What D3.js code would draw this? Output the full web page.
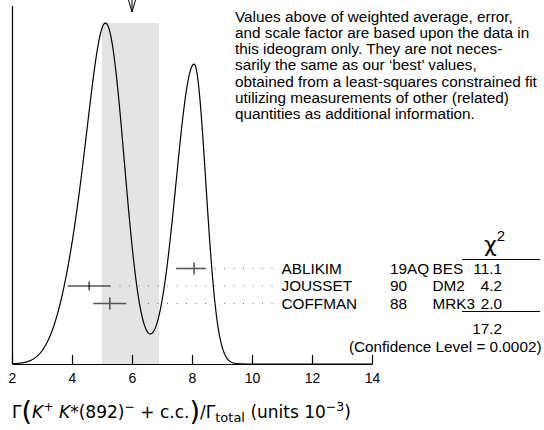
<!DOCTYPE html>
<html>
<head>
<meta charset="utf-8">
<script src="https://cdn.jsdelivr.net/npm/d3@7"></script>
<style>
	body { margin: 0; background: #fff; }
	svg { display: block; font-family: 'Liberation Sans', Arial, sans-serif; }
</style>
</head>
<body>
<svg id="ideogram" width="544" height="430"></svg>
<script>
var authors = ['ABLIKIM', 'JOUSSET', 'COFFMAN'];
var years = ['19AQ', '90', '88'];
var experiments = ['BES', 'DM2', 'MRK3'];
var values = [8.07, 4.57, 5.26];
var errLow = [0.60, 0.72, 0.55];
var errHigh = [0.39, 0.72, 0.55];
var chi2 = ['11.1', '4.2', '2.0'];
var chi2Total = '17.2';
var confLevel = '0.0002';

// weighted average and its (scaled) error band
var average = 6.0;
var band = [5.0, 6.9];

var xTicks = [2, 4, 6, 8, 10, 12, 14];

var note = [
	'Values above of weighted average, error,',
	'and scale factor are based upon the data in',
	'this ideogram only.  They are not neces-',
	'sarily the same as our \u2018best\u2019 values,',
	'obtained from a least-squares constrained fit',
	'utilizing measurements of other (related)',
	'quantities as additional information.'
];

(function() {

	'use strict';

	var svg = d3.select('#ideogram'),
		baseY = 364,
		topY = 23;

	var xScale = d3.scaleLinear()
			.domain([2, 14])
			.range([12, 372]);

	var rowScale = d3.scalePoint()
			.domain(authors)
			.range([268.5, 303.5]);

	var rows = authors.map(function(a, i) {
		return {
			author: a, year: years[i], exp: experiments[i],
			value: values[i], lo: errLow[i], hi: errHigh[i], chi2: chi2[i]
		};
	});

	// ideogram: each measurement is a gaussian of area ~ 1/sigma
	var ideo = function(x) {
		return d3.sum(rows, function(d) {
			var s = x < d.value ? d.lo : d.hi,
				sAvg = (d.lo + d.hi) / 2,
				h = 1 / (Math.sqrt(2 * Math.PI) * sAvg * sAvg);
			return h * Math.exp(-0.5 * Math.pow((x - d.value) / s, 2));
		});
	};

	var curve = d3.range(2, 14.001, 0.02).map(function(x) {
		return [x, ideo(x)];
	});

	var yScale = d3.scaleLinear()
			.domain([0, d3.max(curve, function(p) { return p[1]; })])
			.range([baseY, topY]);

	// shaded error band
	svg.append('rect')
		.attr('x', xScale(band[0]))
		.attr('y', topY)
		.attr('width', xScale(band[1]) - xScale(band[0]))
		.attr('height', baseY - topY)
		.attr('fill', '#e4e4e4');

	// arrow at the average
	var ax = xScale(average);
	svg.append('path')
		.attr('d', 'M' + ax + ',0V12M' + (ax - 3.5) + ',0L' + ax + ',12L' + (ax + 3.5) + ',0')
		.attr('fill', 'none')
		.attr('stroke', '#000')
		.attr('stroke-width', 1);

	// left frame line
	svg.append('line')
		.attr('x1', 12.5).attr('x2', 12.5)
		.attr('y1', 6).attr('y2', baseY)
		.attr('stroke', '#000')
		.attr('stroke-width', 1.2);

	// ideogram curve
	svg.append('path')
		.datum(curve)
		.attr('d', d3.line()
			.x(function(p) { return xScale(p[0]); })
			.y(function(p) { return yScale(p[1]); }))
		.attr('fill', 'none')
		.attr('stroke', '#000')
		.attr('stroke-width', 1.2);

	// x axis, ticks pointing up
	var xAxis = d3.axisBottom(xScale)
			.tickValues(xTicks)
			.tickSize(-9)
			.tickSizeOuter(0)
			.tickPadding(9);

	var axisG = svg.append('g')
		.attr('transform', 'translate(0,' + baseY + ')')
		.call(xAxis);
	axisG.select('.domain').attr('stroke-width', 1.2);
	axisG.selectAll('.tick line').attr('stroke-width', 1.2);
	axisG.selectAll('.tick text')
		.attr('font-family', "'Liberation Sans', Arial, sans-serif")
		.attr('font-size', 14)
		.attr('fill', '#000');

	// error bars
	var barStyle = {
		ABLIKIM: { color: '#555', width: 1.6, tick: 6 },
		JOUSSET: { color: '#000', width: 1.1, tick: 4.5 },
		COFFMAN: { color: '#555', width: 1.6, tick: 6 }
	};

	var bars = svg.append('g').selectAll('g')
		.data(rows)
		.enter()
		.append('g');

	bars.append('line')
		.attr('x1', function(d) { return xScale(d.value - d.lo); })
		.attr('x2', function(d) { return xScale(d.value + d.hi); })
		.attr('y1', function(d) { return rowScale(d.author); })
		.attr('y2', function(d) { return rowScale(d.author); })
		.attr('stroke', function(d) { return barStyle[d.author].color; })
		.attr('stroke-width', function(d) { return barStyle[d.author].width; });

	bars.append('line')
		.attr('x1', function(d) { return xScale(d.value); })
		.attr('x2', function(d) { return xScale(d.value); })
		.attr('y1', function(d) { return rowScale(d.author) - barStyle[d.author].tick; })
		.attr('y2', function(d) { return rowScale(d.author) + barStyle[d.author].tick; })
		.attr('stroke', function(d) { return barStyle[d.author].color; })
		.attr('stroke-width', function(d) { return barStyle[d.author].width; });

	// dotted leaders, drawn from the label back to the bar
	bars.append('line')
		.attr('x1', 272.5)
		.attr('x2', function(d) { return xScale(d.value + d.hi) + 5; })
		.attr('y1', function(d) { return rowScale(d.author); })
		.attr('y2', function(d) { return rowScale(d.author); })
		.attr('stroke', '#777')
		.attr('stroke-width', 1)
		.attr('stroke-dasharray', '1,8.5');

	// labels
	var text = svg.append('g')
		.attr('font-size', 15.3)
		.attr('fill', '#000');

	rows.forEach(function(d) {
		var y = rowScale(d.author) + 5.3;
		text.append('text').attr('x', 281.5).attr('y', y).text(d.author);
		text.append('text').attr('x', 390).attr('y', y).text(d.year);
		text.append('text').attr('x', 432.5).attr('y', y).text(d.exp);
		text.append('text').attr('x', 502).attr('y', y)
			.attr('text-anchor', 'end').text(d.chi2);
	});

	// chi2 header and totals
	var chiHead = svg.append('text')
		.attr('x', 484)
		.attr('y', 251.5)
		.attr('font-family', "'DejaVu Sans', sans-serif")
		.attr('font-size', 22);
	chiHead.append('tspan').text('\u03c7');
	chiHead.append('tspan')
		.attr('dy', -11)
		.attr('font-size', 15)
		.attr('font-family', "'Liberation Sans', Arial, sans-serif")
		.text('2');

	svg.append('line')
		.attr('x1', 462).attr('x2', 540)
		.attr('y1', 259.5).attr('y2', 259.5)
		.attr('stroke', '#000').attr('stroke-width', 1.1);

	svg.append('line')
		.attr('x1', 462).attr('x2', 540)
		.attr('y1', 311.5).attr('y2', 311.5)
		.attr('stroke', '#000').attr('stroke-width', 1.1);

	text.append('text').attr('x', 502).attr('y', 333.5)
		.attr('text-anchor', 'end').text(chi2Total);
	text.append('text').attr('x', 541.5).attr('y', 351.5)
		.attr('text-anchor', 'end')
		.text('(Confidence Level = ' + confLevel + ')');

	// note in the top right
	var noteText = svg.append('text')
		.attr('x', 235)
		.attr('y', 21.5)
		.attr('font-size', 15.3)
		.attr('fill', '#000');
	noteText.selectAll('tspan')
		.data(note)
		.enter()
		.append('tspan')
		.attr('x', 235)
		.attr('dy', function(d, i) { return i === 0 ? 0 : 16.25; })
		.text(function(d) { return d; });

	// axis title
	var title = svg.append('text')
		.attr('x', 12)
		.attr('y', 418)
		.attr('font-family', "'DejaVu Sans', sans-serif")
		.attr('font-size', 17)
		.attr('fill', '#000');
	title.append('tspan').text('\u0393');
	title.append('tspan').attr('font-size', 27).attr('dy', 1.5).text('(');
	title.append('tspan').attr('font-style', 'italic').attr('dy', -1.5).text('K');
	title.append('tspan').attr('font-size', 12.5).attr('dy', -7).text('+');
	title.append('tspan').attr('font-style', 'italic').attr('dy', 7).text(' K');
	title.append('tspan').text('*(892)');
	title.append('tspan').attr('font-size', 12.5).attr('dy', -7).text('\u2212');
	title.append('tspan').attr('dy', 7).text(' + c.c.');
	title.append('tspan').attr('font-size', 27).attr('dy', 1.5).text(')');
	title.append('tspan').attr('dy', -1.5).text('/\u0393');
	title.append('tspan').attr('font-size', 13).attr('dy', 4).text('total');
	title.append('tspan').attr('dy', -4).text(' (units 10');
	title.append('tspan').attr('font-size', 12.5).attr('dy', -7).text('\u22123');
	title.append('tspan').attr('dy', 7).text(')');

})();
</script>
</body>
</html>
